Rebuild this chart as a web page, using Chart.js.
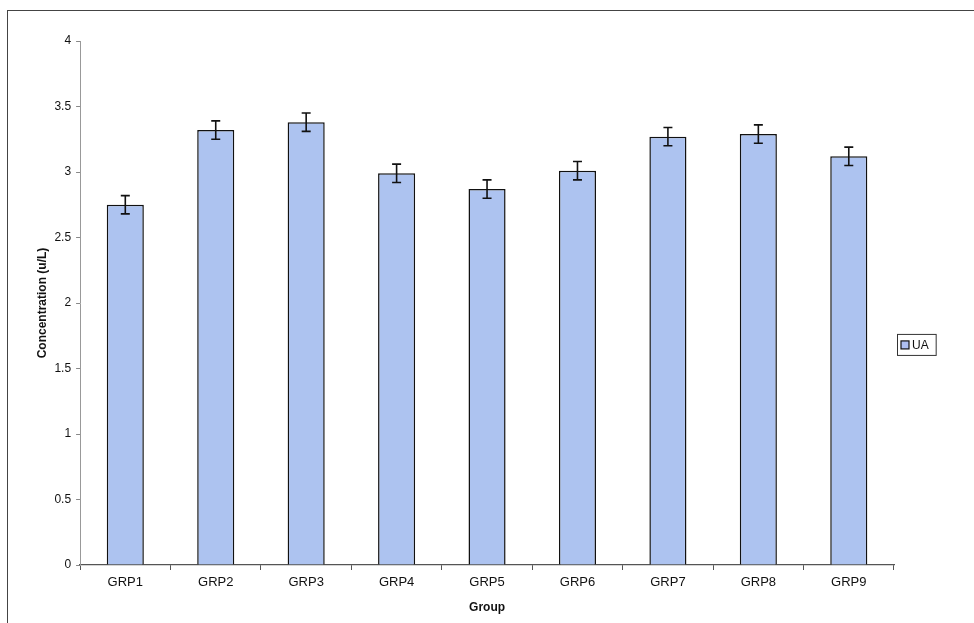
<!DOCTYPE html>
<html>
<head>
<meta charset="utf-8">
<script src="https://cdn.jsdelivr.net/npm/chart.js@4/dist/chart.umd.min.js"></script>
<style>
  html, body { margin: 0; padding: 0; background: #fff; }
  #wrap { position: relative; width: 974px; height: 623px; }
  #frame { position: absolute; left: 7px; top: 10px; width: 980px; height: 620px; border: 1px solid #444; box-sizing: border-box; pointer-events: none; }
</style>
</head>
<body>
<div id="wrap">
  <canvas id="chart" width="974" height="623"></canvas>
  <div id="frame"></div>
</div>
<script>
// data
const groups = ['GRP1', 'GRP2', 'GRP3', 'GRP4', 'GRP5', 'GRP6', 'GRP7', 'GRP8', 'GRP9'];
const uaValues = [2.75, 3.32, 3.38, 2.99, 2.87, 3.01, 3.27, 3.29, 3.12];
const uaErrors = [0.07, 0.07, 0.07, 0.07, 0.07, 0.07, 0.07, 0.07, 0.07];
const yTicks = [0, 0.5, 1, 1.5, 2, 2.5, 3, 3.5, 4];

const FONT = 'Arial, "Liberation Sans", sans-serif';

const errorBars = {
  id: 'errorBars',
  afterDatasetsDraw(chart) {
    const ctx = chart.ctx;
    const y = chart.scales.y;
    const meta = chart.getDatasetMeta(0);
    ctx.save();
    ctx.strokeStyle = '#111';
    ctx.lineWidth = 1.6;
    meta.data.forEach((bar, i) => {
      const top = y.getPixelForValue(uaValues[i] + uaErrors[i]);
      const bot = y.getPixelForValue(uaValues[i] - uaErrors[i]);
      ctx.beginPath();
      ctx.moveTo(bar.x, top); ctx.lineTo(bar.x, bot);
      ctx.moveTo(bar.x - 4.5, top); ctx.lineTo(bar.x + 4.5, top);
      ctx.moveTo(bar.x - 4.5, bot); ctx.lineTo(bar.x + 4.5, bot);
      ctx.stroke();
    });
    ctx.restore();
  }
};

const boxLegend = {
  id: 'boxLegend',
  afterDraw(chart) {
    const ctx = chart.ctx;
    const a = chart.chartArea;
    const x = a.right + 3;
    const cy = a.top + (a.bottom - a.top) * 0.58;
    ctx.save();
    ctx.font = '12px ' + FONT;
    const label = chart.data.datasets[0].label;
    const w = 12 + ctx.measureText(label).width + 10;
    ctx.strokeStyle = '#333';
    ctx.lineWidth = 1;
    ctx.strokeRect(x + 0.5, cy - 10.5, w, 21);
    ctx.fillStyle = '#aebff0';
    ctx.fillRect(x + 4, cy - 4, 8, 8);
    ctx.strokeStyle = '#111';
    ctx.lineWidth = 1.2;
    ctx.strokeRect(x + 4, cy - 4, 8, 8);
    ctx.fillStyle = '#111';
    ctx.textBaseline = 'middle';
    ctx.fillText(label, x + 15, cy + 1);
    ctx.restore();
  }
};

new Chart(document.getElementById('chart'), {
  type: 'bar',
  data: {
    labels: groups,
    datasets: [{
      label: 'UA',
      data: uaValues,
      backgroundColor: '#adc3f0',
      borderColor: '#111',
      borderWidth: 1.5,
      barPercentage: 0.82,
      categoryPercentage: 0.5
    }]
  },
  options: {
    responsive: false,
    animation: false,
    layout: { padding: { left: 35, right: 80, top: 41, bottom: 4 } },
    plugins: {
      legend: { display: false },
      tooltip: { enabled: false }
    },
    scales: {
      x: {
        grid: { drawOnChartArea: false, tickLength: 5, color: '#555', offset: true },
        border: { color: '#555', width: 1.2 },
        ticks: { color: '#111', font: { family: FONT, size: 13 }, padding: 5 },
        title: { display: true, text: 'Group', color: '#111', font: { family: FONT, size: 12, weight: 'bold' }, padding: { top: 5 } }
      },
      y: {
        min: 0,
        max: 4,
        afterBuildTicks(scale) { scale.ticks = yTicks.map(v => ({ value: v })); },
        grid: { drawOnChartArea: false, tickLength: 4, color: '#888' },
        border: { color: '#999', width: 1 },
        ticks: { color: '#111', font: { family: FONT, size: 12 }, padding: 5, callback: v => String(v) },
        title: { display: true, text: 'Concentration (u/L)', color: '#111', font: { family: FONT, size: 12, weight: 'bold' }, padding: { top: 0, bottom: 0 } }
      }
    }
  },
  plugins: [errorBars, boxLegend]
});
</script>
</body>
</html>
